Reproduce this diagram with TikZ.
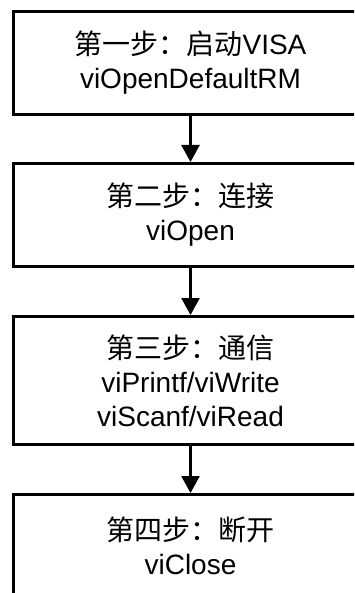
\documentclass[tikz,border=0pt]{standalone}
\usepackage{fontspec}
\setmainfont{Liberation Sans}
\newfontfamily\cjk{Noto Sans CJK SC}
\usetikzlibrary{arrows.meta}
\begin{document}
\begin{tikzpicture}[x=1pt,y=-1pt,
  stepbox/.style={draw, line width=3pt, minimum width=354pt, align=center,
    font=\fontsize{28}{34}\selectfont, inner sep=0pt, anchor=north west},
  flow/.style={line width=2.5pt, -{Triangle[length=17pt,width=18pt]}}]
\useasboundingbox (0,0) rectangle (354,593);
\clip (0,0) rectangle (354,593);
\node[stepbox, minimum height=103pt] (s1) at (12,10) {{\cjk 第一步：启动}VISA\\viOpenDefaultRM};
\node[stepbox, minimum height=103pt] (s2) at (12,162) {{\cjk 第二步：连接}\\viOpen};
\node[stepbox, minimum height=128pt] (s3) at (12,315) {{\cjk 第三步：通信}\\viPrintf/viWrite\\viScanf/viRead};
\node[stepbox, minimum height=103pt] (s4) at (12,493) {{\cjk 第四步：断开}\\viClose};
\draw[flow] (s1.south) -- (s2.north);
\draw[flow] (s2.south) -- (s3.north);
\draw[flow] (s3.south) -- (s4.north);
\end{tikzpicture}
\end{document}
